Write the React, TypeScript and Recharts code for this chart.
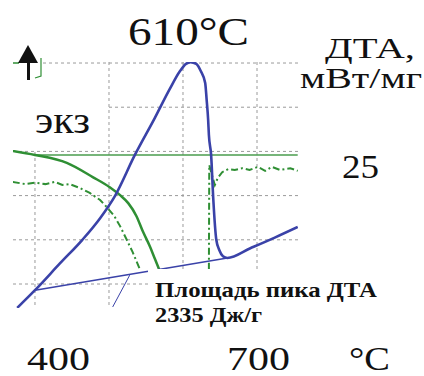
import { LineChart, Line, XAxis, YAxis, CartesianGrid } from "recharts";

// temperature grid / tick labels
const xTicks = [400, 500, 600, 700];
const xTickLabels = ["400", "", "", "700"];
const yGrid = [0, 1, 2, 3, 4, 5];

// DTA curve (blue)
const dtaT = [376, 400, 434, 464, 488, 508, 535, 562, 582, 596, 604, 610, 618, 624, 630, 632, 634, 635, 638, 641, 645, 649, 654, 660, 691, 724, 755];
const dtaV = [-0.54, -0.14, 0.47, 1.0, 1.49, 1.99, 2.92, 3.76, 4.41, 4.82, 4.98, 5.02, 4.98, 4.82, 4.55, 4.16, 3.71, 3.37, 2.92, 1.9, 1.0, 0.77, 0.63, 0.59, 0.81, 1.05, 1.29];

// DTA peak baseline and the pointer to the label
const baseT = [400, 660];
const baseV = [-0.14, 0.59];
const ptrT = [505, 528];
const ptrV = [-0.52, 0.2];

// TG curve (green solid) and its zero level
const tgT = [370, 400, 443, 478, 501, 515, 526, 537, 546, 555, 562, 568];
const tgV = [3.01, 2.92, 2.74, 2.42, 2.19, 2.01, 1.83, 1.54, 1.18, 0.86, 0.57, 0.32];
const zeroT = [400, 755];
const zeroV = [2.92, 2.92];

// DTG curve (green dash-dot), before and after the step
const dtgT = [370, 387, 400, 414, 427, 437, 447, 461, 474, 488, 497, 507, 515, 524, 532, 542];
const dtgV = [2.31, 2.26, 2.29, 2.26, 2.31, 2.24, 2.26, 2.17, 2.06, 1.9, 1.74, 1.54, 1.31, 1.0, 0.72, 0.32];
const dtg2T = [635, 635.5, 639, 643, 647, 653, 661, 670, 680, 690, 701, 711, 720, 731, 745, 755];
const dtg2V = [0.32, 2.69, 2.47, 2.24, 2.4, 2.53, 2.6, 2.58, 2.62, 2.58, 2.65, 2.56, 2.65, 2.58, 2.62, 2.56];

const zip = (t: number[], v: number[]) => t.map((x, i) => ({ t: x, v: v[i] }));

const BLUE = "#3a42a8";
const GREEN = "#2f8f34";
const SERIF = "'Liberation Serif', 'Times New Roman', serif";

const XTick = (props: any) => {
  const { x, y, payload } = props;
  const i = xTicks.indexOf(payload.value);
  const label = xTickLabels[i];
  if (!label) return null;
  return (
    <text
      x={x + (i === 0 ? -8 : -30)}
      y={y}
      dy={54}
      fill="#111"
      fontFamily={SERIF}
      fontSize={34}
      textLength={63}
      lengthAdjust="spacingAndGlyphs"
    >
      {label}
    </text>
  );
};

export default function App() {
  return (
    <div style={{ position: "fixed", left: 0, top: 0, width: 424, height: 376, background: "#fff" }}>
      <LineChart width={424} height={376} margin={{ top: 62, right: 126, bottom: 38, left: 13 }}>
        <CartesianGrid
          stroke="#9a9a9a"
          strokeDasharray="3 3"
          horizontalValues={yGrid}
          verticalValues={xTicks}
        />
        <XAxis
          dataKey="t"
          type="number"
          domain={[370.3, 755.4]}
          ticks={xTicks}
          allowDataOverflow
          axisLine={false}
          tickLine={false}
          height={30}
          tick={<XTick />}
        />
        <YAxis type="number" domain={[-0.543, 5.023]} ticks={yGrid} allowDataOverflow hide />
        <Line data={zip(zeroT, zeroV)} dataKey="v" stroke="#4a9d4e" strokeWidth={1.5} dot={false} isAnimationActive={false} />
        <Line data={zip(tgT, tgV)} dataKey="v" type="monotone" stroke={GREEN} strokeWidth={2.5} dot={false} isAnimationActive={false} />
        <Line data={zip(dtgT, dtgV)} dataKey="v" type="linear" stroke={GREEN} strokeWidth={2} strokeDasharray="7 3 2 3" dot={false} isAnimationActive={false} />
        <Line data={zip(dtg2T, dtg2V)} dataKey="v" type="linear" stroke={GREEN} strokeWidth={2} strokeDasharray="7 3 2 3" dot={false} isAnimationActive={false} />
        <Line data={zip(baseT, baseV)} dataKey="v" stroke={BLUE} strokeWidth={1.6} dot={false} isAnimationActive={false} />
        <Line data={zip(ptrT, ptrV)} dataKey="v" stroke={BLUE} strokeWidth={1} dot={false} isAnimationActive={false} />
        <Line data={zip(dtaT, dtaV)} dataKey="v" type="monotone" stroke={BLUE} strokeWidth={2.6} dot={false} isAnimationActive={false} />
      </LineChart>
      <svg width={424} height={376} style={{ position: "absolute", left: 0, top: 0, pointerEvents: "none" }}>
        {/* white patches that hide the grid behind the labels */}
        <rect x={13} y={40} width={29} height={42} fill="#fff" />
        <rect x={13} y={66} width={93} height={84} fill="#fff" />
        <rect x={148} y={269} width={276} height={72} fill="#fff" />
        {/* exo arrow */}
        <line x1={13} y1={63} x2={19} y2={63} stroke={GREEN} strokeWidth={1.5} />
        <polygon points="18,63 38,63 28,45" fill="#111" />
        <rect x={27} y={62} width={3} height={18} fill="#111" />
        <path d="M41 58 L41 76 L35 78" fill="none" stroke={GREEN} strokeWidth={1.2} />
        <g fontFamily={SERIF} fill="#111">
          <text x={128} y={45} fontSize={39} textLength={121} lengthAdjust="spacingAndGlyphs">610°C</text>
          <text x={325} y={58} fontSize={30} textLength={90} lengthAdjust="spacingAndGlyphs">ДТА,</text>
          <text x={300} y={88} fontSize={30} textLength={122} lengthAdjust="spacingAndGlyphs">мВт/мг</text>
          <text x={35} y={133} fontSize={38} textLength={55} lengthAdjust="spacingAndGlyphs">экз</text>
          <text x={342} y={178} fontSize={33} textLength={37} lengthAdjust="spacingAndGlyphs">25</text>
          <text x={155} y={297} fontSize={21} fontWeight="bold" textLength={222} lengthAdjust="spacingAndGlyphs">Площадь пика ДТА</text>
          <text x={155} y={322} fontSize={21} fontWeight="bold" textLength={107} lengthAdjust="spacingAndGlyphs">2335 Дж/г</text>
          <text x={349} y={370} fontSize={34} textLength={41} lengthAdjust="spacingAndGlyphs">°C</text>
        </g>
      </svg>
    </div>
  );
}
